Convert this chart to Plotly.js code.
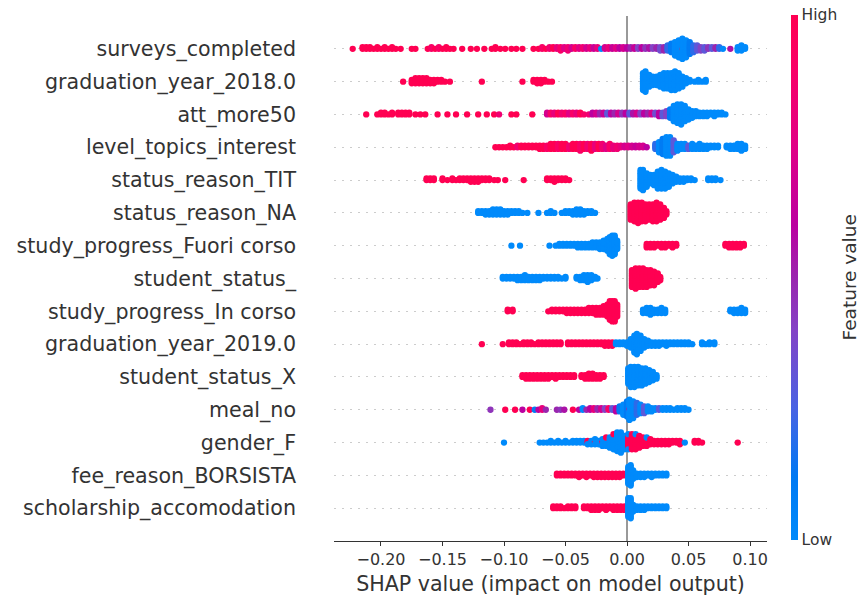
<!DOCTYPE html>
<html>
<head>
<meta charset="utf-8">
<script src="https://cdn.plot.ly/plotly-3.0.1.min.js"></script>
<style>html,body{margin:0;padding:0;background:#fff;}#chart{width:861px;height:598px;}</style>
</head>
<body>
<div id="chart"></div>
<script>
// Feature names, top to bottom
const features = [
  "surveys_completed", "graduation_year_2018.0", "att_more50", "level_topics_interest",
  "status_reason_TIT", "status_reason_NA", "study_progress_Fuori corso", "student_status_",
  "study_progress_In corso", "graduation_year_2019.0", "student_status_X", "meal_no",
  "gender_F", "fee_reason_BORSISTA", "scholarship_accomodation"
];
// each entry: [SHAP value, number of samples at that value, feature value (0 = low, 1 = high)]
const surveys_completed = [[-0.223,1,1],[-0.215,2,1],[-0.212,2,1],[-0.209,2,1],[-0.206,1,1],[-0.203,2,1],[-0.200,1,1],[-0.197,2,1],[-0.194,1,1],[-0.191,2,1],[-0.188,1,1],[-0.184,1,1],[-0.175,1,1],[-0.172,1,1],[-0.162,1,1],[-0.159,2,0.9],[-0.156,1,1],[-0.153,2,0.9],[-0.150,1,1],[-0.147,2,1],[-0.144,1,1],[-0.141,1,1],[-0.134,1,1],[-0.127,1,1],[-0.122,1,1],[-0.116,1,1],[-0.110,1,1],[-0.107,2,1],[-0.103,1,1],[-0.099,1,1],[-0.094,1,1],[-0.090,1,1],[-0.085,1,1],[-0.076,1,1],[-0.072,1,1],[-0.069,2,0.9],[-0.066,1,1],[-0.063,2,0.85],[-0.060,2,1],[-0.057,2,0.8],[-0.054,3,0.9],[-0.051,2,0.75],[-0.048,3,0.85],[-0.045,2,0.7],[-0.042,2,0.9],[-0.039,2,0.75],[-0.036,2,0.85],[-0.033,2,0.7],[-0.030,2,0.8],[-0.027,2,0.65],[-0.024,2,0.8],[-0.021,1,0],[-0.018,2,0.7],[-0.015,2,0.8],[-0.012,2,0.65],[-0.009,2,0.75],[-0.006,2,0.6],[-0.003,2,0.7],[0.000,2,0.6],[0.003,2,0.5],[0.006,2,0.65],[0.009,2,0.4],[0.012,2,0.6],[0.015,2,0.45],[0.018,2,0.55],[0.021,2,0.4],[0.024,2,0.5],[0.027,3,0.35],[0.030,3,0.5],[0.033,4,0.2],[0.036,6,0.1],[0.039,9,0],[0.042,11,0],[0.045,1,1],[0.045,12,0],[0.048,11,0],[0.051,8,0.1],[0.054,5,0.2],[0.057,4,0.3],[0.060,3,0.4],[0.063,3,0.3],[0.066,2,0.45],[0.069,2,0.3],[0.072,2,0.5],[0.075,2,0.2],[0.078,1,0],[0.084,1,0.55],[0.090,3,0],[0.093,4,0],[0.096,2,0]];
const graduation_year_2018 = [[-0.182,1,1],[-0.175,3,1],[-0.172,4,1],[-0.169,4,1],[-0.166,4,1],[-0.163,4,1],[-0.160,3,1],[-0.157,3,1],[-0.154,2,1],[-0.151,2,1],[-0.148,1,1],[-0.144,1,1],[-0.118,1,1],[-0.085,1,1],[-0.076,2,1],[-0.073,3,1],[-0.070,3,1],[-0.067,2,1],[-0.064,1,1],[-0.061,1,1],[0.013,11,0],[0.015,13,0],[0.018,8,0],[0.021,6,0],[0.024,6,0],[0.027,8,0],[0.030,10,0],[0.033,10,0],[0.036,11,0],[0.039,12,0],[0.042,10,0],[0.045,7,0],[0.048,4,0],[0.051,2,0],[0.055,1,0],[0.058,2,0],[0.061,1,0],[0.064,2,0]];
const att_more50 = [[-0.212,1,1],[-0.203,1,1],[-0.200,2,1],[-0.197,2,1],[-0.194,1,1],[-0.191,2,1],[-0.186,2,1],[-0.183,2,1],[-0.180,2,1],[-0.177,2,1],[-0.172,1,1],[-0.168,1,1],[-0.164,1,1],[-0.154,1,1],[-0.146,1,1],[-0.139,1,1],[-0.130,1,1],[-0.121,1,1],[-0.114,1,1],[-0.108,1,1],[-0.104,1,0.85],[-0.094,1,1],[-0.090,1,1],[-0.077,1,1],[-0.065,2,0.7],[-0.062,2,0.9],[-0.059,2,0.8],[-0.056,2,1],[-0.053,2,0.85],[-0.050,2,0.9],[-0.047,2,0.75],[-0.044,2,0.9],[-0.041,2,0.8],[-0.038,2,1],[-0.035,1,0.9],[-0.031,1,0.85],[-0.028,2,0.6],[-0.025,2,0.7],[-0.022,2,0.5],[-0.019,2,0.65],[-0.016,2,0.3],[-0.013,2,0.6],[-0.010,2,0.5],[-0.007,2,0.7],[-0.004,2,0.45],[-0.001,2,0.6],[0.002,2,0.3],[0.005,2,0.55],[0.008,2,0.7],[0.011,2,0.4],[0.014,2,0.6],[0.017,2,0.5],[0.020,2,0.7],[0.023,2,0.35],[0.026,3,0.6],[0.029,3,0.3],[0.032,4,0.4],[0.035,6,0.1],[0.038,10,0],[0.041,12,0],[0.044,13,0],[0.047,10,0],[0.050,7,0],[0.053,5,0],[0.056,4,0],[0.059,3,0],[0.062,3,0],[0.065,3,0],[0.068,2,0],[0.071,3,0],[0.074,2,0],[0.077,2,0],[0.080,1,0]];
const level_topics_interest = [[-0.107,1,1],[-0.104,1,1],[-0.101,1,1],[-0.098,1,1],[-0.095,2,1],[-0.092,1,1],[-0.089,2,0.85],[-0.086,2,1],[-0.083,2,1],[-0.080,2,1],[-0.077,2,1],[-0.074,2,1],[-0.071,3,1],[-0.068,3,1],[-0.065,3,0.9],[-0.062,4,1],[-0.059,4,1],[-0.056,4,0.9],[-0.053,4,1],[-0.050,4,1],[-0.047,3,0.85],[-0.044,4,1],[-0.041,4,1],[-0.038,5,0.9],[-0.035,4,1],[-0.032,4,0.85],[-0.029,5,1],[-0.026,4,0.8],[-0.023,4,1],[-0.020,4,0.85],[-0.017,3,0.75],[-0.014,4,0.9],[-0.011,3,0.8],[-0.008,3,0.85],[-0.005,2,0.8],[-0.002,2,0.7],[0.001,2,0.75],[0.004,2,0.7],[0.007,2,0.65],[0.010,2,0.7],[0.013,2,0.7],[0.016,1,0.6],[0.023,4,0.2],[0.026,7,0],[0.029,10,0.1],[0.032,12,0],[0.035,12,0],[0.038,8,0.3],[0.041,5,0],[0.044,4,0],[0.047,4,0],[0.050,3,0.3],[0.053,4,0],[0.056,3,0],[0.059,4,0],[0.062,3,0],[0.065,3,0],[0.068,2,0],[0.071,2,0],[0.074,2,0],[0.081,2,0],[0.084,3,0],[0.087,3,0],[0.090,4,0],[0.093,5,0],[0.096,3,0]];
const status_reason_TIT = [[-0.163,2,1],[-0.160,2,1],[-0.157,2,1],[-0.150,2,1],[-0.146,1,1],[-0.142,2,1],[-0.139,1,1],[-0.136,2,1],[-0.133,2,1],[-0.130,2,1],[-0.127,3,1],[-0.124,3,1],[-0.121,3,1],[-0.118,2,1],[-0.115,2,1],[-0.112,2,1],[-0.108,1,1],[-0.105,1,1],[-0.099,1,1],[-0.084,1,1],[-0.065,2,1],[-0.062,2,1],[-0.059,3,1],[-0.056,2,1],[-0.053,2,1],[-0.050,2,1],[-0.047,1,1],[0.011,12,0],[0.013,13,0],[0.016,9,0],[0.019,6,0],[0.022,7,0],[0.025,11,0],[0.028,12,0],[0.031,11,0],[0.034,9,0],[0.037,6,0],[0.040,4,0],[0.043,3,0],[0.046,3,0],[0.049,2,0],[0.052,2,0],[0.055,1,0],[0.066,2,0],[0.069,2,0],[0.072,2,0],[0.076,1,0]];
const status_reason_NA = [[-0.121,2,0],[-0.118,2,0],[-0.115,3,0],[-0.112,3,0],[-0.109,4,0],[-0.106,4,0],[-0.103,4,0],[-0.100,3,0],[-0.097,3,0],[-0.094,2,0],[-0.091,2,0],[-0.088,2,0],[-0.085,1,0],[-0.081,1,0],[-0.072,1,0],[-0.065,1,0],[-0.062,2,0],[-0.059,1,0],[-0.053,1,0],[-0.050,2,0],[-0.047,2,0],[-0.044,3,0],[-0.041,4,0],[-0.038,4,0],[-0.035,3,0],[-0.032,2,0],[-0.029,2,0],[-0.026,1,0],[0.003,10,1],[0.006,12,1],[0.009,13,1],[0.012,12,1],[0.015,11,1],[0.018,10,1],[0.021,11,1],[0.024,12,1],[0.027,10,1],[0.030,7,1],[0.032,3,1]];
const study_progress_fuori = [[-0.094,1,0],[-0.087,1,0],[-0.063,1,0],[-0.058,1,0],[-0.055,2,0],[-0.052,2,0],[-0.049,2,0],[-0.046,2,0],[-0.043,2,0],[-0.040,3,0],[-0.037,3,0],[-0.034,3,0],[-0.031,3,0],[-0.028,4,0],[-0.025,4,0],[-0.022,5,0],[-0.019,6,0],[-0.016,8,0],[-0.014,11,0],[-0.012,13,0],[-0.010,12,0],[-0.008,6,0],[0.016,3,1],[0.019,3,1],[0.022,3,1],[0.025,2,1],[0.028,3,1],[0.031,3,1],[0.034,2,1],[0.037,3,1],[0.040,2,1],[0.080,2,1],[0.083,3,1],[0.086,3,1],[0.089,3,1],[0.092,3,1],[0.095,2,1]];
const student_status_ = [[-0.101,2,0],[-0.098,2,0],[-0.095,2,0],[-0.092,2,0],[-0.089,3,0],[-0.086,3,0],[-0.083,4,0],[-0.080,3,0],[-0.077,3,0],[-0.074,3,0],[-0.071,3,0],[-0.068,2,0],[-0.065,2,0],[-0.062,2,0],[-0.059,2,0],[-0.056,2,0],[-0.053,1,0],[-0.050,2,0],[-0.041,2,0],[-0.038,3,0],[-0.035,4,0],[-0.032,5,0],[-0.029,4,0],[-0.026,2,0],[-0.024,1,0],[0.004,11,1],[0.007,13,1],[0.010,12,1],[0.013,12,1],[0.016,11,1],[0.019,10,1],[0.022,9,1],[0.025,6,1],[0.027,3,1]];
const study_progress_in = [[-0.097,2,1],[-0.093,2,1],[-0.064,1,1],[-0.061,2,1],[-0.058,2,1],[-0.055,2,1],[-0.052,2,1],[-0.049,3,1],[-0.046,3,1],[-0.043,3,1],[-0.040,3,1],[-0.037,3,1],[-0.034,3,1],[-0.031,4,1],[-0.028,4,1],[-0.025,5,1],[-0.022,5,1],[-0.019,6,1],[-0.016,8,1],[-0.014,12,1],[-0.012,13,1],[-0.010,13,1],[-0.008,8,1],[0.013,3,0],[0.016,4,0],[0.019,5,0],[0.022,3,0],[0.025,3,0],[0.028,4,0],[0.031,3,0],[0.084,2,0],[0.087,3,0],[0.090,3,0],[0.093,4,0],[0.096,3,0]];
const graduation_year_2019 = [[-0.118,1,1],[-0.101,1,1],[-0.096,2,1],[-0.093,2,1],[-0.090,2,1],[-0.087,1,1],[-0.084,2,1],[-0.081,2,1],[-0.078,2,1],[-0.075,1,1],[-0.072,2,1],[-0.069,2,1],[-0.066,2,1],[-0.063,2,1],[-0.060,2,1],[-0.057,2,1],[-0.054,2,1],[-0.048,2,1],[-0.045,2,1],[-0.042,2,1],[-0.039,2,1],[-0.036,2,1],[-0.033,2,1],[-0.030,2,1],[-0.027,2,1],[-0.024,2,1],[-0.021,2,1],[-0.018,3,1],[-0.015,3,1],[-0.012,3,1],[-0.009,2,0],[-0.006,2,0],[-0.003,2,0],[0.000,3,0],[0.003,6,0],[0.006,11,0],[0.008,13,0],[0.011,10,0],[0.014,6,0],[0.017,4,0],[0.020,3,0],[0.023,3,0],[0.026,3,0],[0.029,2,0],[0.032,3,0],[0.035,2,0],[0.038,2,0],[0.041,2,0],[0.044,2,0],[0.047,2,0],[0.050,2,0],[0.053,1,0],[0.061,2,0],[0.064,1,0],[0.067,2,0],[0.071,2,0]];
const student_status_X = [[-0.085,2,1],[-0.082,3,1],[-0.079,3,1],[-0.076,3,1],[-0.073,3,1],[-0.070,3,1],[-0.067,3,1],[-0.064,3,1],[-0.061,2,1],[-0.058,3,1],[-0.055,2,1],[-0.052,2,1],[-0.049,2,1],[-0.046,2,1],[-0.043,2,1],[-0.037,2,1],[-0.034,3,1],[-0.031,4,1],[-0.028,4,1],[-0.025,3,1],[-0.022,3,1],[-0.019,2,1],[0.001,10,0],[0.003,13,0],[0.006,13,0],[0.009,12,0],[0.012,11,0],[0.015,10,0],[0.018,8,0],[0.021,6,0],[0.024,3,0]];
const meal_no = [[-0.111,1,0.45],[-0.099,1,1],[-0.091,1,1],[-0.085,1,0.6],[-0.079,1,1],[-0.075,1,0.1],[-0.072,1,0.6],[-0.069,2,0.8],[-0.066,1,0.5],[-0.057,1,0.5],[-0.054,1,0.45],[-0.051,1,0.55],[-0.044,1,1],[-0.039,1,0.6],[-0.036,2,0],[-0.033,1,0.5],[-0.030,2,0.6],[-0.027,2,0.8],[-0.024,2,0.5],[-0.021,2,0.7],[-0.018,2,0.4],[-0.015,2,0.9],[-0.012,2,0.3],[-0.009,3,0.6],[-0.006,4,0.1],[-0.003,7,0],[0.000,10,0.1],[0.002,2,0.5],[0.002,11,0],[0.005,11,0],[0.008,8,0.2],[0.011,6,0],[0.014,5,0.3],[0.017,4,0],[0.020,3,0],[0.023,2,0],[0.026,2,0.3],[0.029,2,0],[0.032,2,0],[0.035,2,0],[0.038,1,0],[0.041,2,0],[0.044,2,0],[0.047,2,0],[0.050,1,0]];
const gender_F = [[-0.100,1,0],[-0.071,1,0],[-0.068,1,0],[-0.065,1,0],[-0.062,2,0],[-0.059,1,0],[-0.056,2,0],[-0.053,1,0],[-0.050,2,0],[-0.047,1,0],[-0.044,2,0],[-0.041,2,0],[-0.038,2,0],[-0.035,2,0],[-0.032,2,1],[-0.032,1,0],[-0.029,3,0],[-0.026,2,1],[-0.026,2,0],[-0.023,3,0],[-0.020,2,1],[-0.020,3,0],[-0.017,5,0],[-0.017,1,1],[-0.014,7,0],[-0.011,9,0],[-0.011,1,1],[-0.008,12,0],[-0.005,13,0],[-0.002,9,0],[0.001,8,1],[0.001,2,0],[0.004,10,1],[0.007,9,1],[0.007,1,0],[0.010,8,1],[0.013,6,1],[0.016,5,1],[0.016,1,0],[0.019,4,1],[0.022,3,1],[0.025,3,1],[0.028,3,1],[0.031,3,1],[0.034,3,1],[0.037,2,1],[0.040,2,1],[0.043,3,1],[0.047,1,0],[0.055,2,1],[0.058,2,1],[0.061,1,1],[0.090,1,1]];
const fee_reason_BORSISTA = [[-0.057,2,1],[-0.054,2,1],[-0.051,2,1],[-0.048,2,1],[-0.045,2,1],[-0.042,2,1],[-0.039,3,1],[-0.036,2,1],[-0.033,3,1],[-0.030,2,1],[-0.027,3,1],[-0.024,3,1],[-0.021,3,1],[-0.018,3,1],[-0.015,3,1],[-0.012,3,1],[-0.009,3,1],[-0.006,3,1],[-0.003,2,1],[0.001,11,0],[0.003,13,0],[0.005,6,0],[0.008,3,0],[0.011,3,0],[0.014,3,0],[0.017,2,0],[0.020,3,0],[0.023,2,0],[0.026,2,0],[0.029,2,0],[0.032,2,0]];
const scholarship_accomodation = [[-0.060,2,1],[-0.057,2,1],[-0.054,2,1],[-0.051,1,1],[-0.048,2,1],[-0.045,2,1],[-0.042,2,1],[-0.035,2,1],[-0.032,2,1],[-0.029,3,1],[-0.026,3,1],[-0.023,3,1],[-0.020,2,1],[-0.017,3,1],[-0.014,2,1],[-0.011,3,1],[-0.008,3,1],[-0.005,3,1],[-0.002,3,1],[0.001,12,0],[0.003,13,0],[0.005,5,0],[0.008,3,0],[0.011,3,0],[0.014,3,0],[0.017,2,0],[0.020,2,0],[0.023,2,0],[0.026,2,0],[0.029,2,0],[0.032,2,0]];

const rows = [surveys_completed, graduation_year_2018, att_more50, level_topics_interest,
  status_reason_TIT, status_reason_NA, study_progress_fuori, student_status_,
  study_progress_in, graduation_year_2019, student_status_X, meal_no,
  gender_F, fee_reason_BORSISTA, scholarship_accomodation];
const xTicks = [-0.20, -0.15, -0.10, -0.05, 0.00, 0.05, 0.10];
const xTickText = ["\u22120.20", "\u22120.15", "\u22120.10", "\u22120.05", "0.00", "0.05", "0.10"];

// shap red_blue colormap
const redBlue = [[0,'rgb(0,138,251)'],[0.12,'rgb(0,121,243)'],[0.25,'rgb(73,99,227)'],[0.4,'rgb(132,67,198)'],
  [0.5,'rgb(154,37,174)'],[0.6,'rgb(187,0,160)'],[0.75,'rgb(224,0,134)'],[0.9,'rgb(249,0,102)'],[1,'rgb(255,0,82)']];

// beeswarm layering (same rule as shap summary plot)
function swarm(entries, pos) {
  const layers = new Map();
  const pts = [];
  for (const [x, n, c] of entries) {
    const k = x.toFixed(4);
    let layer = layers.get(k) || 0;
    for (let i = 0; i < n; i++) {
      const y = Math.ceil(layer / 2) * ((layer % 2) * 2 - 1);
      pts.push([x, y, c]);
      layer++;
    }
    layers.set(k, layer);
  }
  const maxy = Math.max(...pts.map(p => p[1]));
  const s = 0.9 * 0.4 / (maxy + 1);
  return {x: pts.map(p => p[0]), y: pts.map(p => pos + p[1] * s), c: pts.map(p => p[2])};
}

const N = features.length;
const traces = rows.map((r, i) => {
  const pos = N - 1 - i;
  const d = swarm(r, pos);
  return {
    type: 'scatter', mode: 'markers', x: d.x, y: d.y, hoverinfo: 'skip', showlegend: false,
    marker: {
      size: 6.3, color: d.c, cmin: 0, cmax: 1, colorscale: redBlue, line: {width: 0},
      showscale: i === 0,
      colorbar: {
        thickness: 7, lenmode: 'pixels', len: 525, y: 0.502, yanchor: 'middle',
        x: 1.0554, xanchor: 'left', xpad: 0, ypad: 0, outlinewidth: 0,
        tickvals: [0, 1], ticktext: ['Low', 'High'], ticks: '', ticklen: 0,
        tickfont: {family: 'DejaVu Sans', size: 15.5, color: '#333333'}
      }
    }
  };
});

const layout = {
  width: 861, height: 598,
  margin: {l: 334, r: 94, t: 16, b: 57},
  paper_bgcolor: '#ffffff', plot_bgcolor: '#ffffff',
  font: {family: 'DejaVu Sans', color: '#333333'},
  xaxis: {
    range: [-0.2382, 0.1138], tickvals: xTicks, ticktext: xTickText,
    ticks: 'outside', ticklen: 4, tickwidth: 1, tickcolor: '#333333',
    showline: true, linecolor: '#333333', linewidth: 1, mirror: false,
    showgrid: false, zeroline: true, zerolinecolor: '#999999', zerolinewidth: 2.6,
    tickfont: {size: 16, color: '#333333'},
    title: {text: 'SHAP value (impact on model output)', font: {size: 20.6, color: '#333333'}, standoff: 8}
  },
  yaxis: {
    range: [-1, N], tickvals: features.map((f, i) => N - 1 - i), ticktext: features,
    ticks: '', showline: false, zeroline: false,
    showgrid: true, gridcolor: '#cccccc', gridwidth: 1, griddash: '1.5px,6.5px',
    tickfont: {size: 20.6, color: '#333333'}, ticklabelstandoff: 37
  },
  annotations: [{
    text: 'Feature value', xref: 'paper', yref: 'paper', x: (849 - 334) / 433, y: 0.502,
    xanchor: 'center', yanchor: 'middle', textangle: -90, showarrow: false,
    font: {family: 'DejaVu Sans', size: 18.5, color: '#333333'}
  }]
};

Plotly.newPlot('chart', traces, layout, {staticPlot: true});
</script>
</body>
</html>
